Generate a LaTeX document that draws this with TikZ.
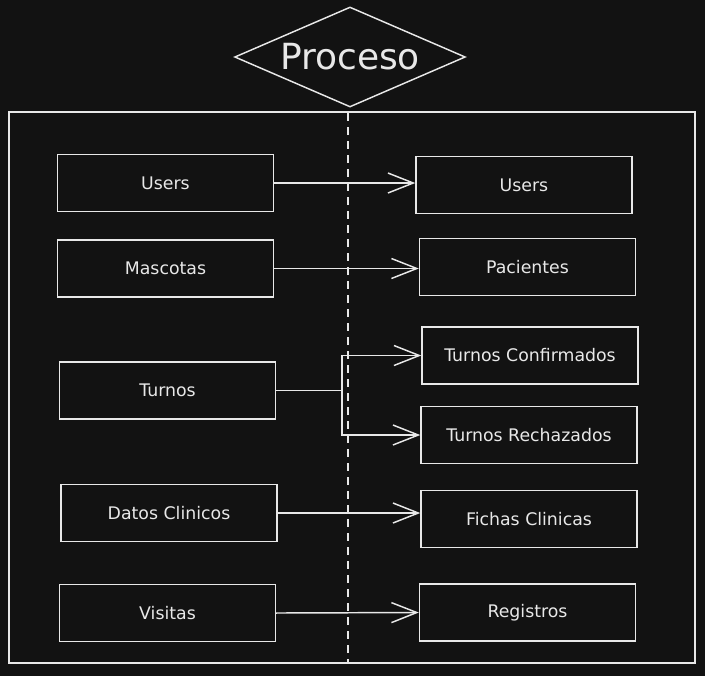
\documentclass[tikz,border=0pt]{standalone}
\usepackage{fontspec}
\setmainfont{DejaVu Sans}
\usepackage{tikz}
\usetikzlibrary{arrows.meta, positioning, shapes.geometric}
\definecolor{boardbg}{RGB}{18,18,18}
\definecolor{chalk}{RGB}{232,232,232}

\begin{document}
\begin{tikzpicture}[x=0.75pt, y=-0.75pt,
    table/.style={draw=chalk, line width=1.1pt, minimum width=162pt, minimum height=43pt, inner sep=0pt, text=chalk, font=\fontsize{13}{15}\selectfont},
    link/.style={draw=chalk, line width=1.1pt, -{Straight Barb[length=19pt, width=15pt]}}]
  \fill[boardbg] (0,0) rectangle (705,676);
  \useasboundingbox (0,0) rectangle (705,676);

  % titulo
  \node[draw=chalk, line width=1.1pt, shape=diamond, aspect=2.31, inner sep=0pt, minimum width=173pt, minimum height=75pt, text=chalk, font=\fontsize{27}{30}\selectfont] (proceso) at (350,57) {Proceso};

  % marco y division
  \draw[chalk, line width=1.7pt] (9,112) rectangle (695,663);
  \draw[chalk, line width=1pt, dash pattern=on 6pt off 4.5pt] (348,113) -- (348,663);

  % tablas origen
  \node[table] (usersL) at (165.5,183) {Users};
  \node[table] (mascotas) at (165.5,268.5) {Mascotas};
  \node[table] (turnos) at (167.5,390.5) {Turnos};
  \node[table] (datos) at (169,513) {Datos Clinicos};
  \node[table] (visitas) at (167.5,613) {Visitas};

  % tablas destino
  \node[table] (usersR) at (524,185) {Users};
  \node[table] (pacientes) at (527.5,267) {Pacientes};
  \node[table] (confirmados) at (530,355.5) {Turnos Confirmados};
  \node[table] (rechazados) at (529,435) {Turnos Rechazados};
  \node[table] (fichas) at (529,519) {Fichas Clinicas};
  \node[table] (registros) at (527.5,612.5) {Registros};

  \coordinate (split) at (342,390.5);

  \draw[link] (usersL.east) -- (usersL.east -| usersR.west);
  \draw[link] (mascotas.east) -- (mascotas.east -| pacientes.west);
  \draw[chalk, line width=1.1pt] (turnos.east) -- (split);
  \draw[link] (split) |- (confirmados.west);
  \draw[link] (split) |- (rechazados.west);
  \draw[link] (datos.east) -- (datos.east -| fichas.west);
  \draw[link] (visitas.east) -- (registros.west);
\end{tikzpicture}
\end{document}
